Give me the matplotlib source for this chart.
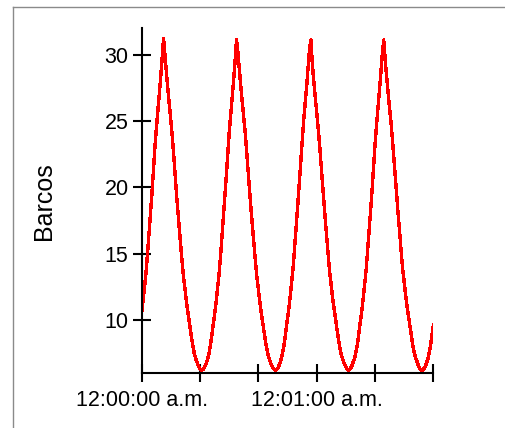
import numpy as np
import matplotlib
matplotlib.use("Agg")
import matplotlib.pyplot as plt
from matplotlib.lines import Line2D

plt.rcParams['font.family'] = ['Liberation Sans', 'DejaVu Sans']

# time step in seconds between samples
step_seconds = 0.5
barcos = [
    10.6, 11.5, 12.55, 13.6, 15.0, 16.5, 17.98, 19.5, 21.2, 22.9, 24.35, 25.65, 26.9, 28.25, 29.7, 31.2,
    29.9, 28.55, 27.3, 26.15, 25.0, 23.75, 22.35, 20.8, 19.3, 17.9, 16.6, 15.3, 14.0, 12.95, 12.0, 11.1,
    10.3, 9.55, 8.8, 8.1, 7.5, 7.1, 6.8, 6.5, 6.3, 6.2,
    6.25, 6.4, 6.65, 6.95, 7.4, 8.0, 8.75, 9.6, 10.4, 11.3, 12.35, 13.4, 14.7, 16.2, 17.65, 19.15,
    20.8, 22.5, 24.1, 25.4, 26.7, 28.0, 29.45, 31.1,
    30.15, 28.8, 27.55, 26.4, 25.3, 24.1, 22.7, 21.2, 19.7, 18.3, 17.0, 15.65, 14.4, 13.2, 12.3, 11.35,
    10.55, 9.8, 9.05, 8.3, 7.7, 7.25, 6.9, 6.6, 6.4, 6.25,
    6.2, 6.3, 6.5, 6.8, 7.2, 7.7, 8.4, 9.25, 10.1, 10.95, 11.9, 13.0, 14.15, 15.6, 17.1, 18.6,
    20.2, 21.9, 23.5, 24.9, 26.2, 27.4, 28.85, 30.3,
    31.1, 29.35, 28.0, 26.8, 25.7, 24.5, 23.2, 21.75, 20.2, 18.75, 17.4, 16.1, 14.75, 13.5, 12.6, 11.6,
    10.8, 10.0, 9.25, 8.5, 7.85, 7.35, 7.0, 6.7, 6.45, 6.3,
    6.2, 6.3, 6.5, 6.8, 7.1, 7.6, 8.2, 9.05, 9.9, 10.75, 11.7, 12.75, 13.85, 15.3, 16.8, 18.25,
    19.8, 21.5, 23.15, 24.6, 25.9, 27.15, 28.55, 30.0,
    31.1, 29.6, 28.3, 27.1, 25.95, 24.85, 23.55, 22.1, 20.6, 19.1, 17.8, 16.5, 15.1, 13.85, 12.85, 11.9,
    11.0, 10.25, 9.5, 8.75, 8.05, 7.5, 7.1, 6.8, 6.5, 6.3, 6.2,
    6.25, 6.4, 6.65, 6.95, 7.4, 8.0, 8.75, 9.6,
]
seconds = np.arange(len(barcos)) * step_seconds

x_ticks = [0, 20, 40, 60, 80, 100]
x_tick_labels = ["12:00:00 a.m.", "", "", "12:01:00 a.m.", "", ""]
y_ticks = [10, 15, 20, 25, 30]
y_label = "Barcos"

W, H = 505, 428
fig = plt.figure(figsize=(W / 100, H / 100), dpi=100)
# frame border (left and top edges visible)
fig.lines.append(Line2D([12.5 / W, 12.5 / W], [0, 1 - 6.5 / H], transform=fig.transFigure,
                        color='#8a8a8a', linewidth=1.0))
fig.lines.append(Line2D([12.5 / W, 1], [1 - 6.5 / H, 1 - 6.5 / H], transform=fig.transFigure,
                        color='#8a8a8a', linewidth=1.0))

ax = fig.add_axes([141.7 / W, 55 / H, 291.6 / W, 345 / H])
ax.plot(seconds, barcos, color='#ff0000', linewidth=1.7, antialiased=False)

ax.set_xlim(0, 100)
ax.set_ylim(6, 32)
ax.set_xticks(x_ticks)
ax.set_xticklabels(x_tick_labels)
ax.set_yticks(y_ticks)

for s in ['top', 'right']:
    ax.spines[s].set_visible(False)
for s in ['left', 'bottom']:
    ax.spines[s].set_linewidth(1.5)
    ax.spines[s].set_color('black')

ax.tick_params(axis='both', direction='inout', length=13, width=1.5, colors='black',
               labelsize=15.5)
ax.tick_params(axis='x', pad=6)
ax.tick_params(axis='y', pad=3)
ax.patch.set_alpha(0)

fig.text(44 / W, 1 - 201 / H, y_label, rotation=90, ha='center', va='center', fontsize=18)

fig.savefig("out.png", dpi=100)
